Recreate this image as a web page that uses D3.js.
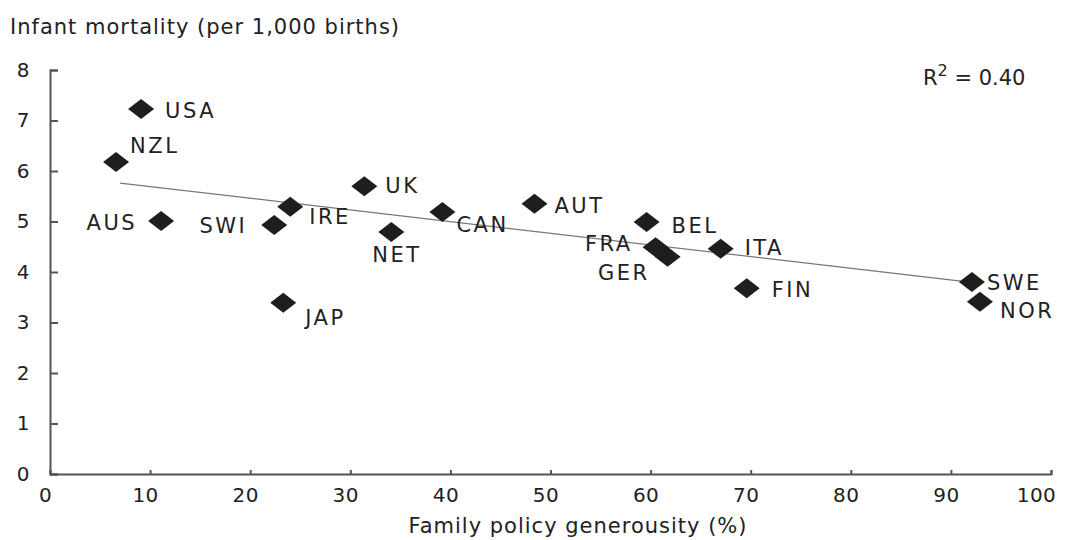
<!DOCTYPE html>
<html>
<head>
<meta charset="utf-8">
<script src="https://cdn.jsdelivr.net/npm/d3@7"></script>
<style>
  body { margin: 0; background: #fff; }
  text { font-family: "DejaVu Sans", sans-serif; fill: #222; }
</style>
</head>
<body>
<div id="chart"></div>
<script>
// values
var countries = ["USA", "NZL", "AUS", "SWI", "IRE", "UK", "NET", "JAP", "CAN",
                 "AUT", "BEL", "FRA", "GER", "ITA", "FIN", "SWE", "NOR"];
var generosity = [9.1, 6.6, 11.1, 22.4, 24.0, 31.4, 34.1, 23.3, 39.2,
                  48.4, 59.6, 60.5, 61.7, 67.0, 69.6, 92.1, 92.9];
var mortality = [7.23, 6.18, 5.01, 4.93, 5.29, 5.70, 4.79, 3.39, 5.19,
                 5.35, 4.99, 4.49, 4.30, 4.46, 3.68, 3.80, 3.41];
var trendX = [7.0, 91.0];
var trendY = [5.76, 3.82];
var xTicks = [0, 10, 20, 30, 40, 50, 60, 70, 80, 90, 100];
var yTicks = [0, 1, 2, 3, 4, 5, 6, 7, 8];

// label placement relative to the marker: [dx, dy, anchor]
var labelPos = {
  USA: [24, 9, "start"], NZL: [14, -9, "start"], AUS: [-24, 9, "end"],
  SWI: [-27, 8, "end"], IRE: [19, 17, "start"], UK: [21, 7, "start"],
  NET: [-19, 30, "start"], JAP: [22, 22, "start"], CAN: [14, 20, "start"],
  AUT: [20, 9, "start"], BEL: [25, 11, "start"], FRA: [-23, 4, "end"],
  GER: [-18, 23, "end"], ITA: [24, 6, "start"], FIN: [25, 9, "start"],
  SWE: [15, 8, "start"], NOR: [20, 16, "start"]
};

var svg = d3.select("#chart").append("svg")
    .attr("width", 1065).attr("height", 540);

var x = d3.scaleLinear().domain([0, 100]).range([50, 1051]);
var y = d3.scaleLinear().domain([0, 8]).range([474, 70]);

// axes, ticks pointing inward
var xAxis = svg.append("g")
    .attr("transform", "translate(0,474)")
    .call(d3.axisBottom(x).tickValues(xTicks).tickSizeInner(-4).tickSizeOuter(-4).tickPadding(14));
var yAxis = svg.append("g")
    .attr("transform", "translate(50,0)")
    .call(d3.axisLeft(y).tickValues(yTicks).tickSizeInner(-8).tickSizeOuter(-8).tickPadding(28));

[xAxis, yAxis].forEach(function(a) {
  a.selectAll("path, line").attr("stroke", "#555").attr("stroke-width", 2);
  a.selectAll("text").attr("font-size", 20).attr("fill", "#222")
    .attr("letter-spacing", 0.5)
    .style("font-family", "DejaVu Sans, sans-serif");
});
yAxis.selectAll("text").attr("x", -20);
xAxis.selectAll("text").attr("dx", function(d) { return d === 100 ? -15 : -5; });

// trend line
svg.append("line")
    .attr("x1", x(trendX[0])).attr("y1", y(trendY[0]))
    .attr("x2", x(trendX[1])).attr("y2", y(trendY[1]))
    .attr("stroke", "#777").attr("stroke-width", 1.2);

var pts = countries.map(function(c, i) {
  return { name: c, gx: generosity[i], my: mortality[i] };
});

// diamonds, wider than tall
svg.append("g").selectAll("path")
    .data(pts)
    .enter().append("path")
    .attr("d", "M-13,0L0,-10L13,0L0,10Z")
    .attr("transform", function(d) { return "translate(" + x(d.gx) + "," + y(d.my) + ")"; })
    .attr("fill", "#1e1e1e");

svg.append("g").selectAll("text")
    .data(pts)
    .enter().append("text")
    .attr("x", function(d) { return x(d.gx) + labelPos[d.name][0]; })
    .attr("y", function(d) { return y(d.my) + labelPos[d.name][1]; })
    .attr("text-anchor", function(d) { return labelPos[d.name][2]; })
    .attr("font-size", 21)
    .attr("letter-spacing", 2.5)
    .text(function(d) { return d.name; });

svg.append("text")
    .attr("x", 10).attr("y", 34)
    .attr("font-size", 21)
    .attr("letter-spacing", 1)
    .text("Infant mortality (per 1,000 births)");

svg.append("text")
    .attr("x", 578).attr("y", 533)
    .attr("text-anchor", "middle")
    .attr("font-size", 21)
    .attr("letter-spacing", 1)
    .text("Family policy generousity (%)");

var r2 = svg.append("text")
    .attr("x", 923).attr("y", 85)
    .attr("font-size", 21);
r2.append("tspan").text("R");
r2.append("tspan").attr("dy", -9).attr("font-size", 16).text("2");
r2.append("tspan").attr("dy", 9).text(" = 0.40");
</script>
</body>
</html>
